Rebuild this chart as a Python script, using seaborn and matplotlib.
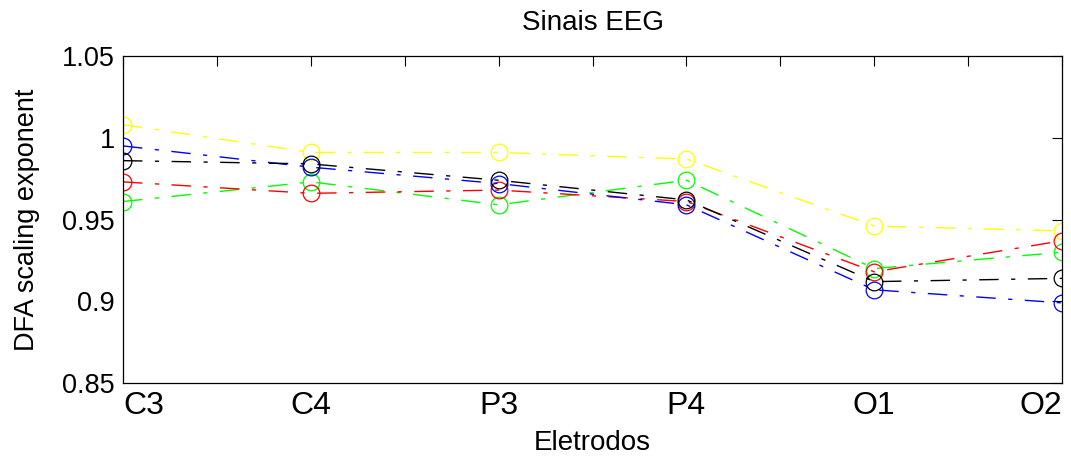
import matplotlib
matplotlib.use("Agg")
import matplotlib.pyplot as plt
import seaborn as sns
import pandas as pd
import numpy as np

# data
eletrodos = ["C3", "C4", "P3", "P4", "O1", "O2"]
amarelo = [1.008, 0.991, 0.991, 0.987, 0.946, 0.943]
verde = [0.961, 0.973, 0.959, 0.974, 0.920, 0.930]
vermelho = [0.973, 0.966, 0.968, 0.961, 0.918, 0.937]
azul = [0.995, 0.982, 0.972, 0.959, 0.907, 0.899]
preto = [0.986, 0.984, 0.974, 0.962, 0.912, 0.914]

series = [
    (amarelo, (1, 1, 0)),
    (verde, (0, 1, 0)),
    (vermelho, (1, 0, 0)),
    (azul, (0, 0, 1)),
    (preto, (0, 0, 0)),
]

sns.set_style("white")
plt.rcParams['font.family'] = ['Liberation Sans', 'DejaVu Sans']
plt.rcParams['text.color'] = 'black'
plt.rcParams['axes.labelcolor'] = 'black'
plt.rcParams['xtick.color'] = 'black'
plt.rcParams['ytick.color'] = 'black'

fig = plt.figure(figsize=(10.71, 4.57), dpi=100)
ax = fig.add_axes([123 / 1071, 1 - 383 / 457, (1062 - 123) / 1071, (383 - 56) / 457])

x = np.arange(len(eletrodos))
for valores, cor in series:
    df = pd.DataFrame({"x": x, "y": valores})
    sns.lineplot(data=df, x="x", y="y", ax=ax, color=cor, lw=1,
                 marker="o", markersize=12, fillstyle="none",
                 markeredgewidth=0.9, markeredgecolor=cor)

# traço-ponto no estilo matlab
for line in ax.get_lines():
    line.set_dashes((14, 9, 3, 9))

ax.set_xlim(0, 5)
ax.set_ylim(0.85, 1.05)
ax.set_xticks(x)
ax.set_xticklabels(eletrodos, fontsize=23)
# primeiro e último rótulo ficam dentro da figura
ticklabels = ax.get_xticklabels()
ticklabels[0].set_horizontalalignment("left")
ticklabels[-1].set_horizontalalignment("right")
ax.set_xticks(x[:-1] + 0.5, minor=True)
ax.set_yticks([0.85, 0.9, 0.95, 1.0, 1.05])
ax.set_yticklabels(["0.85", "0.9", "0.95", "1", "1.05"], fontsize=19.5)

ax.tick_params(which="both", direction="in", top=True, right=True,
               length=7, width=0.8, color="black")
ax.tick_params(axis="x", pad=6)
ax.tick_params(axis="y", pad=6)
for sp in ax.spines.values():
    sp.set_visible(True)
    sp.set_color("black")
    sp.set_linewidth(0.9)

ax.set_title("Sinais EEG", fontsize=20, pad=19)
ax.set_xlabel("Eletrodos", fontsize=20, labelpad=6)
ax.set_ylabel("DFA scaling exponent", fontsize=19.5, labelpad=16)

fig.savefig("out.png", dpi=100)
